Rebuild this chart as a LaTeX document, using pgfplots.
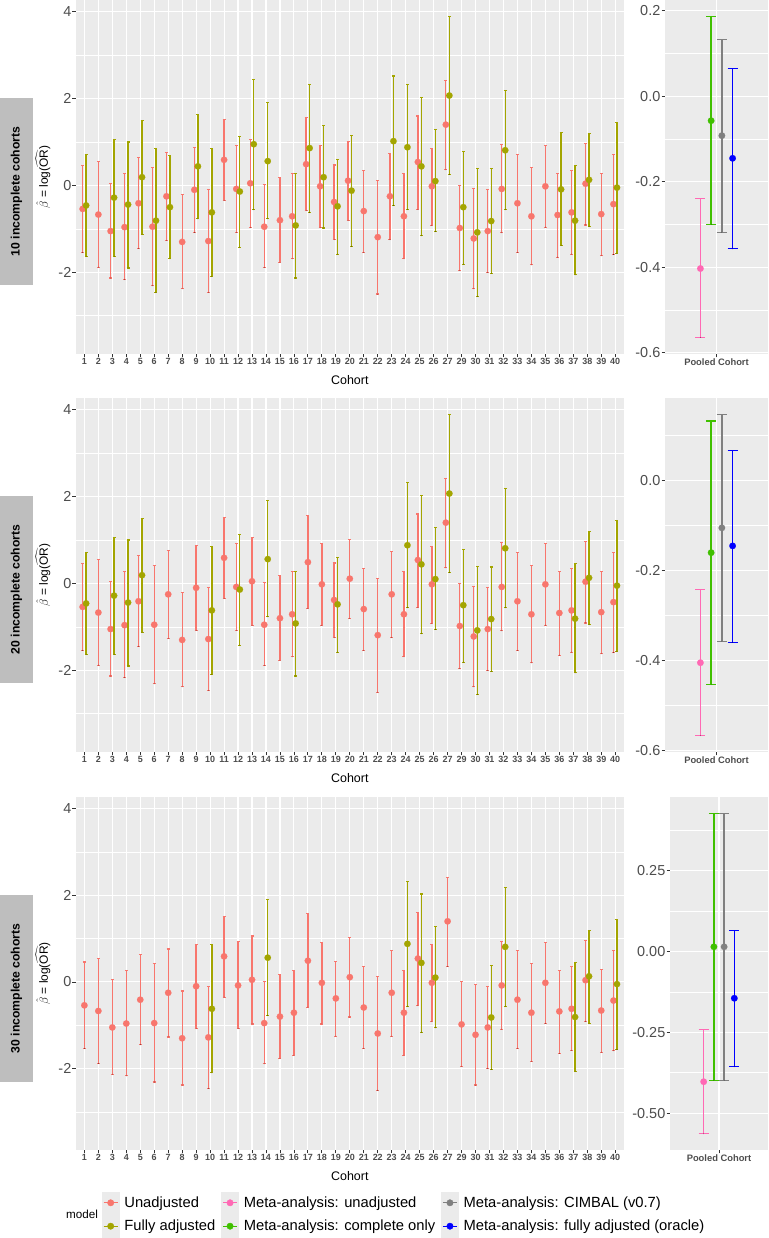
\documentclass[border=0pt]{standalone}
\usepackage{fontspec}
\setmainfont{Liberation Sans}
\setsansfont{Liberation Sans}
\usepackage{amsmath}
\usepackage{pgfplots}
\usepackage{pgfplotstable}
\pgfplotsset{compat=1.18}

\definecolor{panelbg}{HTML}{EBEBEB}
\definecolor{tickc}{HTML}{333333}
\definecolor{labc}{HTML}{4D4D4D}
\definecolor{stripc}{HTML}{BEBEBE}
\definecolor{cUn}{HTML}{F8766D}
\definecolor{cUnL}{HTML}{F8766D}
\definecolor{cFa}{HTML}{A3A500}
\definecolor{cFaL}{HTML}{A3A500}
\definecolor{cMu}{HTML}{FF69B4}
\definecolor{cMc}{HTML}{40C000}
\definecolor{cMi}{HTML}{808080}
\definecolor{cMo}{HTML}{0000FF}

% Unadjusted estimates (index i: cohorts 1-27, 29-40); d1-d3 = dodge offset per panel
\pgfplotstableread{
i y lo hi d1 d2 d3
1 -0.54 -1.54 0.46 -0.125 -0.125 0
2 -0.67 -1.88 0.55 0 0 0
3 -1.05 -2.13 0.05 -0.125 -0.125 0
4 -0.96 -2.17 0.27 -0.125 -0.125 0
5 -0.41 -1.45 0.64 -0.125 -0.125 0
6 -0.95 -2.31 0.42 -0.125 0 0
7 -0.25 -1.27 0.76 -0.125 0 0
8 -1.30 -2.38 -0.21 0 0 0
9 -0.10 -1.08 0.87 -0.125 0 0
10 -1.28 -2.46 -0.10 -0.125 -0.125 -0.125
11 0.59 -0.35 1.52 0 0 0
12 -0.08 -1.08 0.93 -0.125 -0.125 0
13 0.05 -0.97 1.06 -0.125 0 0
14 -0.95 -1.89 0.02 -0.125 -0.125 -0.125
15 -0.80 -1.77 0.18 0 0 0
16 -0.71 -1.69 0.27 -0.125 -0.125 0
17 0.49 -0.58 1.57 -0.125 0 0
18 -0.02 -0.97 0.92 -0.125 0 0
19 -0.38 -1.25 0.47 -0.125 -0.125 0
20 0.11 -0.81 1.02 -0.125 0 0
21 -0.59 -1.54 0.35 0 0 0
22 -1.19 -2.50 0.12 0 0 0
23 -0.25 -1.25 0.73 -0.125 0 0
24 -0.71 -1.69 0.27 -0.125 -0.125 -0.125
25 0.54 -0.55 1.60 -0.125 -0.125 -0.125
26 -0.02 -0.92 0.86 -0.125 -0.125 -0.125
27 1.40 0.36 2.42 -0.125 -0.125 0
28 -0.98 -1.96 0.00 -0.125 -0.125 0
29 -1.22 -2.38 -0.06 -0.125 -0.125 0
30 -1.05 -2.00 -0.10 -0.125 -0.125 -0.125
31 -0.08 -1.09 0.94 -0.125 -0.125 -0.125
32 -0.41 -1.54 0.72 0 0 0
33 -0.71 -1.83 0.42 0 0 0
34 -0.02 -0.96 0.91 0 0 0
35 -0.68 -1.65 0.27 -0.125 0 0
36 -0.62 -1.58 0.35 -0.125 -0.125 -0.125
37 0.04 -0.91 0.96 -0.125 -0.125 -0.125
38 -0.66 -1.62 0.28 0 0 0
39 -0.43 -1.59 0.72 -0.125 -0.125 -0.125
}\unadj

% Fully adjusted, panel 1 (10 incomplete cohorts)
\pgfplotstableread{
i y lo hi
1 -0.46 -1.64 0.72
3 -0.28 -1.63 1.05
4 -0.44 -1.90 1.00
5 0.19 -1.12 1.50
6 -0.81 -2.46 0.86
7 -0.50 -1.69 0.69
9 0.44 -0.77 1.63
10 -0.62 -2.10 0.86
12 -0.14 -1.42 1.13
13 0.95 -0.56 2.44
14 0.56 -0.77 1.91
16 -0.92 -2.13 0.27
17 0.86 -0.62 2.32
18 0.19 -0.98 1.37
19 -0.48 -1.58 0.59
20 -0.12 -1.40 1.15
23 1.02 -0.46 2.52
24 0.88 -0.56 2.32
25 0.44 -1.16 2.03
26 0.10 -1.06 1.28
27 2.07 0.25 3.90
28 -0.50 -1.81 0.79
29 -1.08 -2.56 0.40
30 -0.82 -2.02 0.38
31 0.81 -0.56 2.18
35 -0.09 -1.38 1.22
36 -0.81 -2.06 0.45
37 0.13 -0.95 1.19
39 -0.05 -1.56 1.45
}\faA

% Fully adjusted, panel 2 (20 incomplete cohorts)
\pgfplotstableread{
i y lo hi
1 -0.46 -1.64 0.72
3 -0.28 -1.63 1.05
4 -0.44 -1.90 1.00
5 0.19 -1.12 1.50
10 -0.62 -2.10 0.86
12 -0.14 -1.42 1.13
14 0.56 -0.77 1.91
16 -0.92 -2.13 0.27
19 -0.48 -1.58 0.59
24 0.88 -0.56 2.32
25 0.44 -1.16 2.03
26 0.10 -1.06 1.28
27 2.07 0.25 3.90
28 -0.50 -1.81 0.79
29 -1.08 -2.56 0.40
30 -0.82 -2.02 0.38
31 0.81 -0.56 2.18
36 -0.81 -2.06 0.45
37 0.13 -0.95 1.19
39 -0.05 -1.56 1.45
}\faB

% Fully adjusted, panel 3 (30 incomplete cohorts)
\pgfplotstableread{
i y lo hi
10 -0.62 -2.10 0.86
14 0.56 -0.77 1.91
24 0.88 -0.56 2.32
25 0.44 -1.16 2.03
26 0.10 -1.06 1.28
30 -0.82 -2.02 0.38
31 0.81 -0.56 2.18
36 -0.81 -2.06 0.45
37 0.13 -0.95 1.19
39 -0.05 -1.56 1.45
}\faC

\pgfplotsset{
  gg/.style={
    scale only axis,
    axis background/.style={fill=panelbg},
    axis line style={draw=none},
    tick align=outside,
    xtick pos=left, ytick pos=left,
    major tick length=3.5bp,
    minor tick length=0pt,
    tick style={color=tickc, line width=0.8bp},
    xmajorgrids, ymajorgrids, yminorgrids,
    major grid style={white, line width=1.1bp},
    minor grid style={white, line width=0.55bp},
    yticklabel style={font=\fontsize{14.5}{15}\selectfont, text=labc, inner sep=0pt, anchor=east, xshift=-1bp},
    xticklabel style={font=\bfseries\fontsize{9}{10}\selectfont, text=labc, inner sep=0pt, anchor=north, yshift=-1bp},
  },
  leftp/.style={gg, width=547.6bp,
    xmin=0.4, xmax=39.6, ymin=-3.88, ymax=4.27,
    xtick={1,2,3,4,5,6,7,8,9,10,11,12,13,14,15,16,17,18,19,20,21,22,23,24,25,26,27,28,29,30,31,32,33,34,35,36,37,38,39},
    xticklabels={1,2,3,4,5,6,7,8,9,10,11,12,13,14,15,16,17,18,19,20,21,22,23,24,25,26,27,29,30,31,32,33,34,35,36,37,38,39,40},
    ytick={-2,0,2,4}, yticklabels={-2,0,2,4},
    minor ytick={-3,-1,1,3},
    xlabel={Cohort},
    xlabel style={at={(axis description cs:0.5,0)}, anchor=center, yshift=-26bp, inner sep=0pt, font=\fontsize{12.5}{13}\selectfont},
    ylabel={\(\hat{\beta}\) = log(\(\widehat{\mathrm{OR}}\))},
    ylabel style={at={(axis description cs:-0.0603,0.5)}, anchor=center, inner sep=0pt, font=\fontsize{12}{13}\selectfont},
  },
  rightp/.style={gg, xmin=0.4, xmax=1.6, xtick={1}, xticklabels={Pooled Cohort},
    xticklabel style={font=\bfseries\fontsize{9.4}{10}\selectfont}},
  % interval drawn from (x,lo) upwards; #1 colour, #2 half cap width, #3 bp per y unit of the panel
  ebarm/.style n args={3}{
    scatter, only marks, mark=*, mark size=0.01bp, mark options={draw=none, fill=none},
    visualization depends on={(\thisrow{hi}-\thisrow{lo})*#3 \as \errlen},
    scatter/@pre marker code/.code={%
      \draw[draw=#1, line width=1.3bp] (0bp,0bp) -- (0bp,\errlen bp);
      \draw[draw=#1, line width=1.1bp] (-#2,0bp) -- (#2,0bp);
      \draw[draw=#1, line width=1.1bp] (-#2,\errlen bp) -- (#2,\errlen bp);
      \scope},
    scatter/@post marker code/.code={\endscope},
  },
  pts/.style={only marks, mark=*, mark size=3.25bp, color=#1, mark options={solid, draw=#1, fill=#1, line width=0.1bp}},
}

% pooled estimate: colour, x, estimate, lower, upper, bp per unit
\newcommand{\pooled}[6]{%
  \addplot[ebarm={#1}{5bp}{#6}] table[row sep=\\, x=x, y=lo] {x lo hi\\ #2 #4 #5\\};
  \addplot[only marks, mark=*, mark size=3.3bp, color=#1, mark options={solid, draw=#1, fill=#1, line width=0.1bp}] table[row sep=\\, x=x, y=y] {x y\\ #2 #3\\};
}

\begin{document}
\begin{tikzpicture}
\useasboundingbox (0bp,0bp) rectangle (769bp,1238bp);

% ---------------- Row 1 ----------------
\begin{axis}[leftp, at={(76bp,884bp)}, anchor=south west, height=354bp]
\addplot[ebarm={cUnL}{1.5bp}{43.436}] table[x expr=\thisrow{i}+\thisrow{d1}, y=lo] {\unadj};
\addplot[pts=cUn] table[x expr=\thisrow{i}+\thisrow{d1}, y=y] {\unadj};
\addplot[ebarm={cFaL}{1.5bp}{43.436}] table[x expr=\thisrow{i}+0.125, y=lo] {\faA};
\addplot[pts=cFa] table[x expr=\thisrow{i}+0.125, y=y] {\faA};
\end{axis}
\begin{axis}[rightp, at={(665bp,884bp)}, anchor=south west, width=103bp, height=354bp,
  ymin=-0.603, ymax=0.2255,
  ytick={-0.6,-0.4,-0.2,0,0.2}, yticklabels={-0.6,-0.4,-0.2,0.0,0.2},
  minor ytick={-0.5,-0.3,-0.1,0.1}]
\pooled{cMu}{0.8125}{-0.403}{-0.564}{-0.240}{427.28}
\pooled{cMc}{0.9375}{-0.057}{-0.300}{0.187}{427.28}
\pooled{cMi}{1.0625}{-0.092}{-0.318}{0.134}{427.28}
\pooled{cMo}{1.1875}{-0.145}{-0.357}{0.066}{427.28}
\end{axis}

% ---------------- Row 2 ----------------
\begin{axis}[leftp, at={(76bp,486bp)}, anchor=south west, height=354bp]
\addplot[ebarm={cUnL}{1.5bp}{43.436}] table[x expr=\thisrow{i}+\thisrow{d2}, y=lo] {\unadj};
\addplot[pts=cUn] table[x expr=\thisrow{i}+\thisrow{d2}, y=y] {\unadj};
\addplot[ebarm={cFaL}{1.5bp}{43.436}] table[x expr=\thisrow{i}+0.125, y=lo] {\faB};
\addplot[pts=cFa] table[x expr=\thisrow{i}+0.125, y=y] {\faB};
\end{axis}
\begin{axis}[rightp, at={(665bp,486bp)}, anchor=south west, width=103bp, height=354bp,
  ymin=-0.603, ymax=0.182,
  ytick={-0.6,-0.4,-0.2,0}, yticklabels={-0.6,-0.4,-0.2,0.0},
  minor ytick={-0.5,-0.3,-0.1,0.1}]
\pooled{cMu}{0.8125}{-0.405}{-0.567}{-0.243}{450.96}
\pooled{cMc}{0.9375}{-0.161}{-0.454}{0.131}{450.96}
\pooled{cMi}{1.0625}{-0.106}{-0.357}{0.146}{450.96}
\pooled{cMo}{1.1875}{-0.146}{-0.360}{0.066}{450.96}
\end{axis}

% ---------------- Row 3 ----------------
\begin{axis}[leftp, at={(76bp,88bp)}, anchor=south west, height=353bp]
\addplot[ebarm={cUnL}{1.5bp}{43.313}] table[x expr=\thisrow{i}+\thisrow{d3}, y=lo] {\unadj};
\addplot[pts=cUn] table[x expr=\thisrow{i}+\thisrow{d3}, y=y] {\unadj};
\addplot[ebarm={cFaL}{1.5bp}{43.313}] table[x expr=\thisrow{i}+0.125, y=lo] {\faC};
\addplot[pts=cFa] table[x expr=\thisrow{i}+0.125, y=y] {\faC};
\end{axis}
\begin{axis}[rightp, at={(670bp,88bp)}, anchor=south west, width=98bp, height=353bp,
  ymin=-0.614, ymax=0.477,
  ytick={-0.5,-0.25,0,0.25}, yticklabels={-0.50,-0.25,0.00,0.25},
  minor ytick={-0.375,-0.125,0.125,0.375}]
\pooled{cMu}{0.8125}{-0.403}{-0.564}{-0.241}{323.56}
\pooled{cMc}{0.9375}{0.014}{-0.399}{0.427}{323.56}
\pooled{cMi}{1.0625}{0.014}{-0.399}{0.427}{323.56}
\pooled{cMo}{1.1875}{-0.145}{-0.357}{0.065}{323.56}
\end{axis}

% ---------------- Row strips ----------------
\foreach \yy/\txt in {1046.5/10 incomplete cohorts, 648.5/20 incomplete cohorts, 249.5/30 incomplete cohorts}{
  \node[fill=stripc, rotate=90, minimum width=187bp, minimum height=33bp, inner sep=0pt,
        font=\bfseries\fontsize{12.25}{13}\selectfont] at (16.5bp,\yy bp) {\txt};
}

% ---------------- Legend ----------------
\node[anchor=center, inner sep=0pt, font=\fontsize{11.7}{12}\selectfont] at (82bp,24bp) {model};
\begin{axis}[hide axis, scale only axis, at={(102bp,1bp)}, anchor=south west, width=600bp, height=45bp,
  xmin=0, xmax=1, ymin=0, ymax=1,
  legend columns=3, legend cell align=left,
  legend style={at={(0,0.5)}, anchor=west, draw=none, fill=none, inner sep=0pt, outer sep=0pt,
    font=\fontsize{14.8}{15}\selectfont, row sep=1bp, nodes={inner sep=0pt},
    /tikz/every odd column/.append style={column sep=5bp},
    /tikz/every even column/.append style={column sep=6bp}}]
\addlegendimage{legend image code/.code={\fill[panelbg] (0bp,-11bp) rectangle (17bp,11bp); \draw[cUn, line width=1.1bp] (1.5bp,0bp) -- (15.5bp,0bp); \fill[cUn] (8.5bp,0bp) circle (3.2bp);}}
\addlegendentry{Unadjusted}
\addlegendimage{legend image code/.code={\fill[panelbg] (0bp,-11bp) rectangle (17bp,11bp); \draw[cMu, line width=1.1bp] (1.5bp,0bp) -- (15.5bp,0bp); \fill[cMu] (8.5bp,0bp) circle (3.2bp);}}
\addlegendentry{Meta-analysis: unadjusted}
\addlegendimage{legend image code/.code={\fill[panelbg] (0bp,-11bp) rectangle (17bp,11bp); \draw[cMi, line width=1.1bp] (1.5bp,0bp) -- (15.5bp,0bp); \fill[cMi] (8.5bp,0bp) circle (3.2bp);}}
\addlegendentry{Meta-analysis: CIMBAL (v0.7)}
\addlegendimage{legend image code/.code={\fill[panelbg] (0bp,-11bp) rectangle (17bp,11bp); \draw[cFa, line width=1.1bp] (1.5bp,0bp) -- (15.5bp,0bp); \fill[cFa] (8.5bp,0bp) circle (3.2bp);}}
\addlegendentry{Fully adjusted}
\addlegendimage{legend image code/.code={\fill[panelbg] (0bp,-11bp) rectangle (17bp,11bp); \draw[cMc, line width=1.1bp] (1.5bp,0bp) -- (15.5bp,0bp); \fill[cMc] (8.5bp,0bp) circle (3.2bp);}}
\addlegendentry{Meta-analysis: complete only}
\addlegendimage{legend image code/.code={\fill[panelbg] (0bp,-11bp) rectangle (17bp,11bp); \draw[cMo, line width=1.1bp] (1.5bp,0bp) -- (15.5bp,0bp); \fill[cMo] (8.5bp,0bp) circle (3.2bp);}}
\addlegendentry{Meta-analysis: fully adjusted (oracle)}
\end{axis}
\end{tikzpicture}
\end{document}
